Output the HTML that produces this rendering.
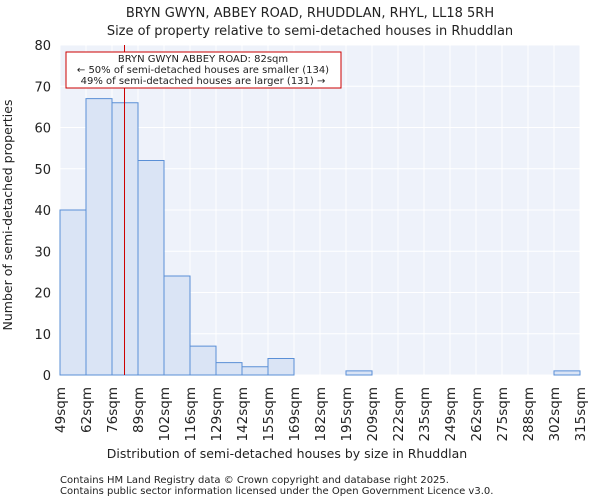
<!DOCTYPE html>
<html><head><meta charset="utf-8"><style>
body{margin:0;background:#fff;font-family:"DejaVu Sans","Liberation Sans",sans-serif;}
svg text{font-family:"DejaVu Sans","Liberation Sans",sans-serif;fill:#222;}
</style></head><body>
<svg id="c" width="600" height="500">
<text x="310" y="17" font-size="13" text-anchor="middle">BRYN GWYN, ABBEY ROAD, RHUDDLAN, RHYL, LL18 5RH</text>
<text x="310" y="35" font-size="13" text-anchor="middle">Size of property relative to semi-detached houses in Rhuddlan</text>
<g id="plot"></g>
<text x="287" y="458" font-size="12.5" text-anchor="middle">Distribution of semi-detached houses by size in Rhuddlan</text>
<text transform="translate(12,215) rotate(-90)" font-size="12.5" text-anchor="middle">Number of semi-detached properties</text>
<text x="60" y="483" font-size="10" fill="#333">Contains HM Land Registry data © Crown copyright and database right 2025.</text>
<text x="60" y="494" font-size="10" fill="#333">Contains public sector information licensed under the Open Government Licence v3.0.</text>
</svg>
<script>
const binLabels=["49sqm","62sqm","76sqm","89sqm","102sqm","116sqm","129sqm","142sqm","155sqm","169sqm","182sqm","195sqm","209sqm","222sqm","235sqm","249sqm","262sqm","275sqm","288sqm","302sqm","315sqm"];
const counts=[40,67,66,52,24,7,3,2,4,0,0,1,0,0,0,0,0,0,0,1];
const yTicks=[0,10,20,30,40,50,60,70,80];
const marker=82;
const binStart=49, binWidth=13.3;
const L=60,R=580,T=45,B=375,yMax=80;
const NS="http://www.w3.org/2000/svg";
const g=document.getElementById('plot');
const bw=(R-L)/counts.length;
const xs=i=>L+i*bw;
const ys=v=>B-(v/yMax)*(B-T);
function mk(t,a){const e=document.createElementNS(NS,t);for(const k in a)e.setAttribute(k,a[k]);g.appendChild(e);return e;}
const bg=mk('rect',{x:L,y:T,width:R-L,height:B-T,fill:'#eef2fa'});


yTicks.forEach(v=>{
 const l=mk('line',{x1:L,x2:R,y1:ys(v),y2:ys(v),stroke:'#fff','stroke-width':1});
 
 
 const t=mk('text',{x:L-9,y:ys(v)+5,'font-size':13,'text-anchor':'end'});t.textContent=v;
 
 
});
binLabels.forEach((s,i)=>{
 const l=mk('line',{x1:xs(i),x2:xs(i),y1:T,y2:B,stroke:'#fff','stroke-width':1});
 
 
 const t=mk('text',{transform:`translate(${xs(i)+5},387) rotate(-90)`,'font-size':13.5,'text-anchor':'end'});t.textContent=s;
 
 
});
counts.forEach((c,i)=>{
 if(c<=0)return;
 const r=mk('rect',{x:xs(i),y:ys(c),width:bw,height:B-ys(c),fill:'#dae4f5',stroke:'#5a8fd6','stroke-width':1});
 
 
});
const mx=L+((marker-binStart)/binWidth)*bw;
const ml=mk('line',{x1:mx,x2:mx,y1:T,y2:B,stroke:'#c00','stroke-width':1});


const box=mk('rect',{x:66,y:52,width:275,height:36,fill:'#fff',stroke:'#c00','stroke-width':1});


["BRYN GWYN ABBEY ROAD: 82sqm","← 50% of semi-detached houses are smaller (134)","49% of semi-detached houses are larger (131) →"].forEach((s,i)=>{
 const t=mk('text',{x:203,y:62+i*11,'font-size':10,'text-anchor':'middle'});t.textContent=s;
 
 
});
</script>
</body></html>
